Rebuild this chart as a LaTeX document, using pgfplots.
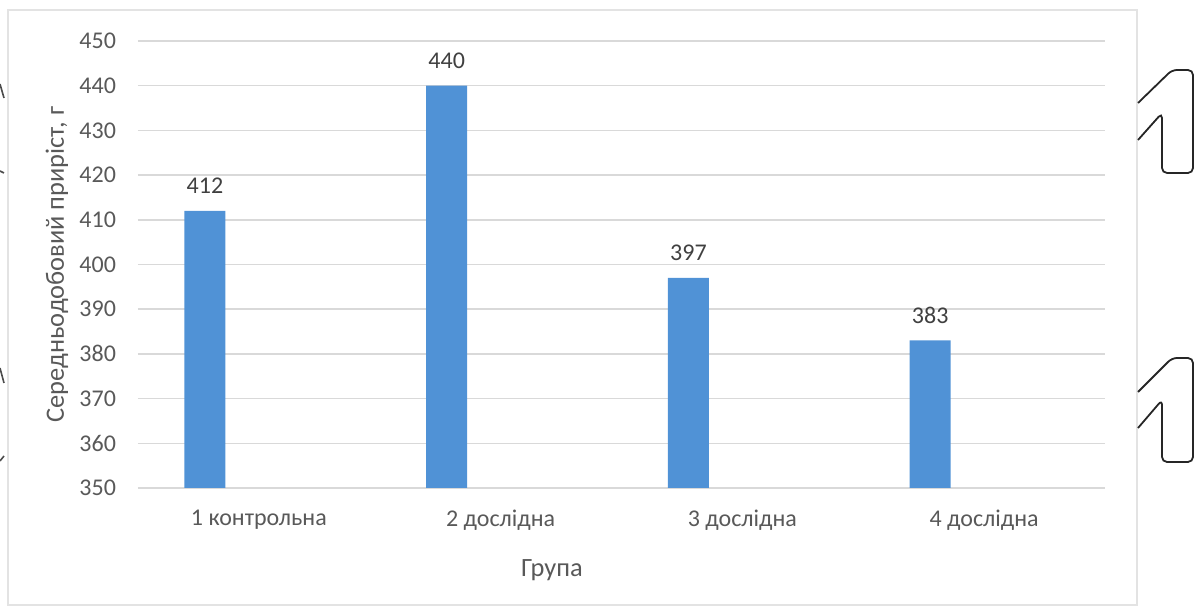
\documentclass[border=0pt]{standalone}
\usepackage{fontspec}
\setmainfont{Carlito}
\usepackage{pgfplots}
\pgfplotsset{compat=1.18}
\definecolor{barblue}{RGB}{80,146,214}
\definecolor{gridgray}{RGB}{217,217,217}
\definecolor{ticktext}{RGB}{89,89,89}
\definecolor{valtext}{RGB}{64,64,64}
\begin{document}
\begin{tikzpicture}[x=0.5pt,y=0.5pt]
\useasboundingbox (0,0) rectangle (1204,608);
% chart frame
\draw[gray!22, line width=0.8pt] (8,3) rectangle (1137,598);
\begin{axis}[
  at={(69pt,60pt)}, anchor=south west,
  scale only axis, width=483.5pt, height=223.5pt,
  xmin=-0.5, xmax=3.5, ymin=350, ymax=450,
  ytick={350,360,...,450},
  xtick={0,1,2,3},
  xticklabels={1 контрольна, 2 дослідна, 3 дослідна, 4 дослідна},
  axis line style={draw=none},
  major tick length=0pt,
  ymajorgrids, grid style={gridgray, line width=0.75pt},
  tick label style={font=\fontsize{12}{14}\selectfont, text=ticktext},
  /pgf/number format/assume math mode=true,
  yticklabel style={xshift=-7.5pt},
  xticklabel style={yshift=-7.5pt},
  xlabel={Група}, ylabel={Середньодобовий приріст, г},
  label style={font=\fontsize{13.2}{15}\selectfont, text=ticktext},
  xlabel style={at={(axis description cs:0.428,-0.183)}, anchor=center},
  ylabel style={at={(axis description cs:-0.0838,0.5)}, anchor=center},
]
% bars sit in the left part of each group slot
\addplot[ybar, bar width=20.5pt, bar shift=0pt, fill=barblue, draw=none,
  nodes near coords,
  nodes near coords style={font=\fontsize{12}{14}\selectfont, text=valtext, yshift=5pt}]
  coordinates {(-0.223,412) (0.777,440) (1.777,397) (2.777,383)};
\end{axis}
% bracket marks at the right edge
\begin{scope}[black!85, line width=0.9pt, rounded corners=2.5pt]
  \draw (1138,505) -- (1172,538) -- (1193,538) -- (1193,435) -- (1162,435) -- (1162,495) -- (1138,468);
  \draw (1138,216) -- (1172,250) -- (1193,250) -- (1193,146) -- (1162,146) -- (1162,208) -- (1138,180);
\end{scope}
% small strokes at the left edge
\begin{scope}[black!70, line width=0.8pt]
  \draw (0,524) -- (4,510);
  \draw (0,437) -- (4,435);
  \draw (0,240) -- (4,225);
  \draw (0,147) -- (4,152);
\end{scope}
\end{tikzpicture}
\end{document}
